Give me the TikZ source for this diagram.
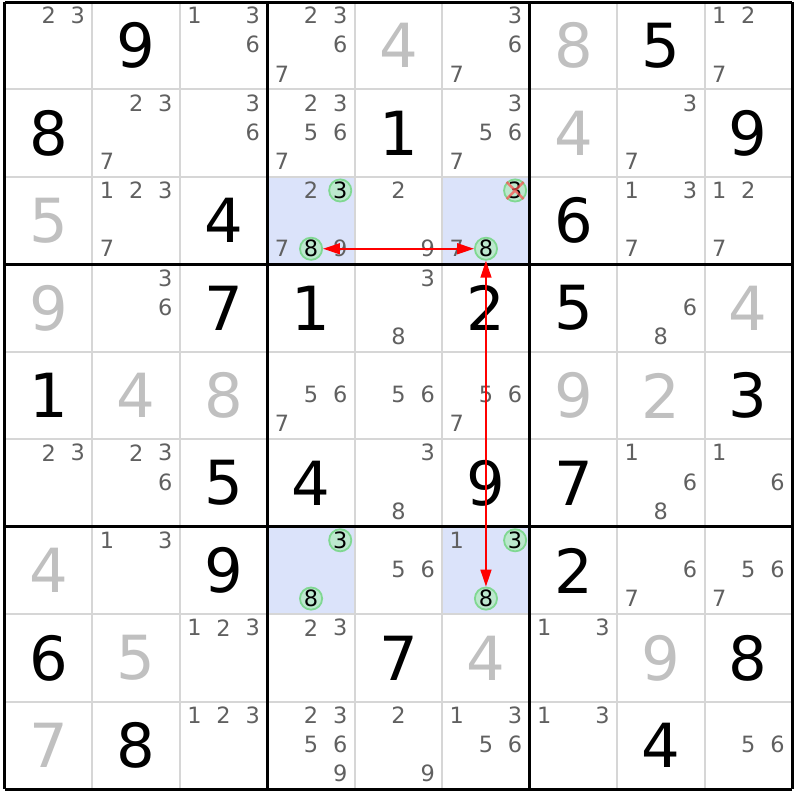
\documentclass[tikz,border=0pt]{standalone}
\usepackage{fontspec}
\setmainfont{DejaVu Sans}
\usetikzlibrary{arrows.meta}

\definecolor{candgray}{RGB}{96,96,96}
\definecolor{solvedgray}{RGB}{192,192,192}
\definecolor{linegray}{RGB}{214,214,214}
\definecolor{hlblue}{RGB}{219,227,250}
\definecolor{hitfill}{RGB}{188,232,206}
\definecolor{hitline}{RGB}{128,216,146}

\tikzset{
  given/.style={inner sep=0pt, font=\fontsize{61}{61}\selectfont, text=black},
  solved/.style={given, text=solvedgray},
  cand/.style={inner sep=0pt, font=\fontsize{22.5}{22.5}\selectfont, text=candgray},
  hit/.style={cand, circle, draw=hitline, fill=hitfill, line width=1.8pt,
    minimum size=21pt, text=black},
  hl/.style={fill=hlblue},
  thinline/.style={draw=linegray, line width=2pt},
  boxline/.style={draw=black, line width=3pt},
  link/.style={draw=red, line width=1.5pt,
    {Triangle[length=17pt,width=11pt]}-{Triangle[length=17pt,width=11pt]}},
  strike/.style={draw=red!70, opacity=0.7, line width=2.4pt}
}

% candidate d of cell (r,c)
\newcommand\candat[4][cand]{\node[#1] (r#2c#3n#4) at ({#3-5/6+mod(#4-1,3)/3},{9.845-#2-floor((#4-1)/3)/3}) {#4};}
\newcommand\cands[3]{\foreach \d in {#3}{\candat{#1}{#2}{\d}}}

\begin{document}
\begin{tikzpicture}[x=87.7pt, y=87.7pt]
\useasboundingbox (-0.057,-0.125) rectangle (9.068,9.023);
% highlighted cells
\fill[hl] (3,6) rectangle (4,7);
\fill[hl] (5,6) rectangle (6,7);
\fill[hl] (3,2) rectangle (4,3);
\fill[hl] (5,2) rectangle (6,3);
% grid
\draw[thinline, step=1] (0,0) grid (9,9);
\draw[boxline, step=3] (0,0) grid (9,9);
% givens
\node[given] (r1c2) at (1.5,8.5) {9};
\node[given] (r1c8) at (7.5,8.5) {5};
\node[given] (r2c1) at (0.5,7.5) {8};
\node[given] (r2c5) at (4.5,7.5) {1};
\node[given] (r2c9) at (8.5,7.5) {9};
\node[given] (r3c3) at (2.5,6.5) {4};
\node[given] (r3c7) at (6.5,6.5) {6};
\node[given] (r4c3) at (2.5,5.5) {7};
\node[given] (r4c4) at (3.5,5.5) {1};
\node[given] (r4c6) at (5.5,5.5) {2};
\node[given] (r4c7) at (6.5,5.5) {5};
\node[given] (r5c1) at (0.5,4.5) {1};
\node[given] (r5c9) at (8.5,4.5) {3};
\node[given] (r6c3) at (2.5,3.5) {5};
\node[given] (r6c4) at (3.5,3.5) {4};
\node[given] (r6c6) at (5.5,3.5) {9};
\node[given] (r6c7) at (6.5,3.5) {7};
\node[given] (r7c3) at (2.5,2.5) {9};
\node[given] (r7c7) at (6.5,2.5) {2};
\node[given] (r8c1) at (0.5,1.5) {6};
\node[given] (r8c5) at (4.5,1.5) {7};
\node[given] (r8c9) at (8.5,1.5) {8};
\node[given] (r9c2) at (1.5,0.5) {8};
\node[given] (r9c8) at (7.5,0.5) {4};
% solved
\node[solved] (r1c5) at (4.5,8.5) {4};
\node[solved] (r1c7) at (6.5,8.5) {8};
\node[solved] (r2c7) at (6.5,7.5) {4};
\node[solved] (r3c1) at (0.5,6.5) {5};
\node[solved] (r4c1) at (0.5,5.5) {9};
\node[solved] (r4c9) at (8.5,5.5) {4};
\node[solved] (r5c2) at (1.5,4.5) {4};
\node[solved] (r5c3) at (2.5,4.5) {8};
\node[solved] (r5c7) at (6.5,4.5) {9};
\node[solved] (r5c8) at (7.5,4.5) {2};
\node[solved] (r7c1) at (0.5,2.5) {4};
\node[solved] (r8c2) at (1.5,1.5) {5};
\node[solved] (r8c6) at (5.5,1.5) {4};
\node[solved] (r8c8) at (7.5,1.5) {9};
\node[solved] (r9c1) at (0.5,0.5) {7};
% candidates
\cands{1}{1}{2,3}
\cands{1}{3}{1,3,6}
\cands{1}{4}{2,3,6,7}
\cands{1}{6}{3,6,7}
\cands{1}{9}{1,2,7}
\cands{2}{2}{2,3,7}
\cands{2}{3}{3,6}
\cands{2}{4}{2,3,5,6,7}
\cands{2}{6}{3,5,6,7}
\cands{2}{8}{3,7}
\cands{3}{2}{1,2,3,7}
\cands{3}{4}{2,7,9}
\cands{3}{5}{2,9}
\cands{3}{6}{7}
\cands{3}{8}{1,3,7}
\cands{3}{9}{1,2,7}
\cands{4}{2}{3,6}
\cands{4}{5}{3,8}
\cands{4}{8}{6,8}
\cands{5}{4}{5,6,7}
\cands{5}{5}{5,6}
\cands{5}{6}{5,6,7}
\cands{6}{1}{2,3}
\cands{6}{2}{2,3,6}
\cands{6}{5}{3,8}
\cands{6}{8}{1,6,8}
\cands{6}{9}{1,6}
\cands{7}{2}{1,3}
\cands{7}{5}{5,6}
\cands{7}{6}{1}
\cands{7}{8}{6,7}
\cands{7}{9}{5,6,7}
\cands{8}{3}{1,2,3}
\cands{8}{4}{2,3}
\cands{8}{7}{1,3}
\cands{9}{3}{1,2,3}
\cands{9}{4}{2,3,5,6,9}
\cands{9}{5}{2,9}
\cands{9}{6}{1,3,5,6}
\cands{9}{7}{1,3}
\cands{9}{9}{5,6}
% circled candidates
\candat[hit]{3}{4}{3}
\candat[hit]{3}{4}{8}
\candat[hit]{3}{6}{3}
\candat[hit]{3}{6}{8}
\candat[hit]{7}{4}{3}
\candat[hit]{7}{4}{8}
\candat[hit]{7}{6}{3}
\candat[hit]{7}{6}{8}
% eliminated
\draw[strike] (r3c6n3.north west) -- (r3c6n3.south east)
  (r3c6n3.north east) -- (r3c6n3.south west);
% links
\draw[link] (r3c4n8) -- (r3c6n8);
\draw[link] (r3c6n8) -- (r7c6n8);
\end{tikzpicture}
\end{document}
